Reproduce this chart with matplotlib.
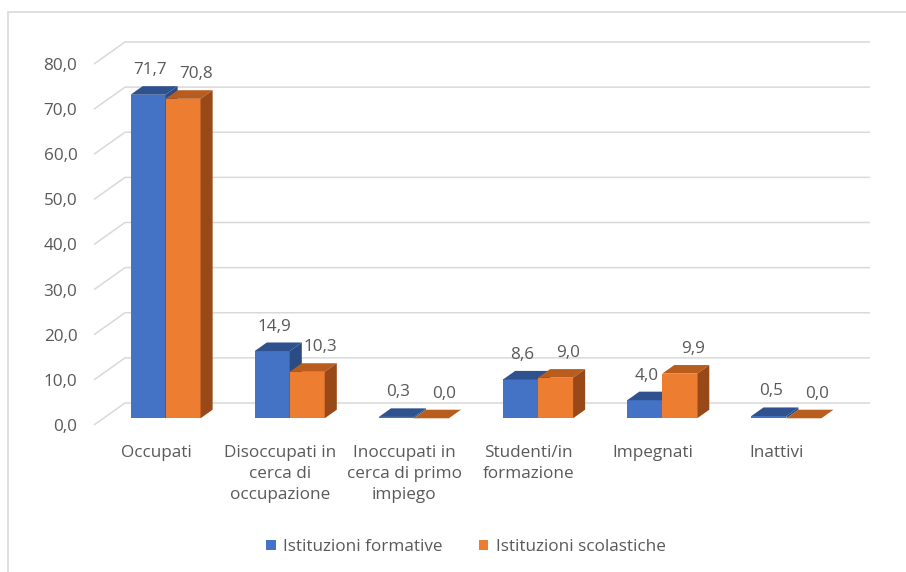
import matplotlib
matplotlib.use("Agg")
import matplotlib.pyplot as plt
from matplotlib.patches import Polygon, Patch, Rectangle
import numpy as np

categories = [
    "Occupati",
    "Disoccupati in\ncerca di\noccupazione",
    "Inoccupati in\ncerca di primo\nimpiego",
    "Studenti/in\nformazione",
    "Impegnati",
    "Inattivi",
]
series_names = ["Istituzioni formative", "Istituzioni scolastiche"]
formative = [71.7, 14.9, 0.3, 8.6, 4.0, 0.5]
scolastiche = [70.8, 10.3, 0.0, 9.0, 9.9, 0.0]
y_ticks = [0, 10, 20, 30, 40, 50, 60, 70, 80]

# face colours: front, top, side
palette = [
    ("#4472C4", "#2F528F", "#2B4B85"),
    ("#ED7D31", "#B95D1E", "#984917"),
]
text_color = "#595959"
grid_color = "#D9D9D9"
font = ["Open Sans", "DejaVu Sans"]
FS = 12.3

W_PX, H_PX = 906, 572
fig = plt.figure(figsize=(W_PX / 100, H_PX / 100), dpi=100)
fig.patch.set_facecolor("white")

# chart area border
fig.patches.append(Rectangle((8 / W_PX, -0.1), 1.2, (H_PX - 12) / H_PX + 0.1,
                             transform=fig.transFigure, fill=False,
                             edgecolor=grid_color, linewidth=1.2))

# plot area: front plane x 94..839 px, value 0 at y=425 px, 80 at y=64 px
n = len(categories)
px_per_cat = (839 - 94) / n
px_per_val = (425 - 64) / 80.0
DX = 31 / px_per_cat          # wall depth in category units
DY = 22 / px_per_val          # wall depth in value units
x_max = n + DX
y_max = 80 + DY
left_px, bottom_px = 94, 425
ax = fig.add_axes([left_px / W_PX, (H_PX - bottom_px) / H_PX,
                   (x_max * px_per_cat) / W_PX, (y_max * px_per_val) / H_PX])
ax.set_xlim(0, x_max)
ax.set_ylim(0, y_max)
for s in ax.spines.values():
    s.set_visible(False)
ax.set_facecolor("none")

# back wall gridlines
for v in y_ticks:
    ax.plot([0, DX, x_max], [v, v + DY, v + DY], color=grid_color,
            linewidth=1.1, zorder=1, clip_on=False, solid_capstyle="butt")

# 3D-looking columns
BW = 35 / px_per_cat
d0, d1 = 0.305, 0.695
centers = np.arange(n) + 0.5
for s_idx, vals in enumerate([formative, scolastiche]):
    front, top, side = palette[s_idx]
    lefts = centers - BW + s_idx * BW + d0 * DX
    ax.bar(lefts, vals, width=BW, bottom=d0 * DY, align="edge",
           color=front, linewidth=0, zorder=3 + s_idx)
    for xl, v in zip(lefts, vals):
        xr = xl + BW
        yb = d0 * DY
        yt = yb + v
        ddx = (d1 - d0) * DX
        ddy = (d1 - d0) * DY
        ax.add_patch(Polygon([(xl, yt), (xr, yt), (xr + ddx, yt + ddy),
                              (xl + ddx, yt + ddy)], closed=True,
                             facecolor=top, edgecolor="none", zorder=3 + s_idx))
        ax.add_patch(Polygon([(xr, yb), (xr + ddx, yb + ddy),
                              (xr + ddx, yt + ddy), (xr, yt)], closed=True,
                             facecolor=side, edgecolor="none", zorder=3 + s_idx))
        lx = xl + BW / 2 + (2 / px_per_cat if s_idx == 0 else 13 / px_per_cat)
        ax.annotate(f"{v:.1f}".replace(".", ","), (lx, yt + ddy),
                    xytext=(0, 11.5), textcoords="offset points",
                    ha="center", va="center", fontsize=FS,
                    color=text_color, family=font, zorder=10)

# axes labels
ax.set_yticks(y_ticks)
ax.set_yticklabels([f"{v:.1f}".replace(".", ",") for v in y_ticks],
                   family=font, fontsize=FS, color=text_color)
ax.tick_params(axis="y", length=0, pad=12)
ax.set_xticks(centers)
ax.set_xticklabels(categories, family=font, fontsize=FS, color=text_color,
                   linespacing=1.42)
ax.tick_params(axis="x", length=0, pad=14.5)

handles = [Patch(facecolor=palette[i][0], edgecolor="none") for i in range(2)]
fig.legend(handles, series_names, loc="center",
           bbox_to_anchor=(466 / W_PX, 1 - 547 / H_PX), ncol=2, frameon=False,
           handlelength=0.55, handleheight=0.55, handletextpad=0.45,
           columnspacing=2.1, prop={"family": font, "size": FS},
           labelcolor=text_color)

fig.savefig("out.png", dpi=100, facecolor="white")
